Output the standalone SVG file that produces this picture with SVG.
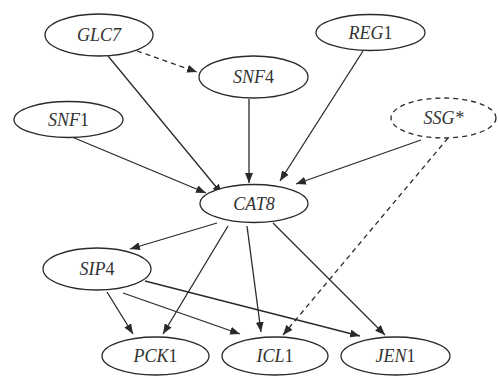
<svg xmlns="http://www.w3.org/2000/svg" width="498" height="376" viewBox="0 0 498 376">
<defs>
<marker id="ah" viewBox="0 0 10 8" refX="10" refY="4" markerWidth="10" markerHeight="8" markerUnits="userSpaceOnUse" orient="auto">
<path d="M0,0 L10,4 L0,8 z" fill="#2a2a2a"/>
</marker>
</defs>
<style>
.n ellipse{fill:#fff;stroke:#2a2a2a;stroke-width:1.3}
.n.d ellipse{stroke-dasharray:5 4}
.n text{font-family:"Liberation Serif","Times New Roman",serif;font-size:18px;font-style:italic;fill:#333;text-anchor:middle}
.n text tspan.u{font-style:normal}
#edges line{stroke:#2a2a2a;stroke-width:1.3;marker-end:url(#ah)}
#edges line.d{stroke-dasharray:5 4}
</style>
<rect width="498" height="376" fill="#fff"/>
<g id="edges">
<line class="d" x1="137" y1="51" x2="197" y2="72"/>
<line x1="108" y1="56" x2="222" y2="194"/>
<line x1="72" y1="137" x2="206" y2="193"/>
<line x1="249" y1="99" x2="249" y2="183"/>
<line x1="363" y1="51" x2="280" y2="181"/>
<line x1="421" y1="140" x2="296" y2="184"/>
<line class="d" x1="448" y1="138" x2="283" y2="335"/>
<line x1="217" y1="223" x2="130" y2="249"/>
<line x1="228" y1="226" x2="163" y2="334"/>
<line x1="247" y1="226" x2="261" y2="332"/>
<line x1="273" y1="223" x2="385" y2="335"/>
<line x1="107" y1="292" x2="133" y2="334"/>
<line x1="123" y1="293" x2="240" y2="334"/>
<line x1="145" y1="281" x2="360" y2="336"/>
</g>
<g id="GLC7" class="n"><ellipse cx="99" cy="35" rx="54" ry="21"/><text x="99" y="41">GLC7</text></g>
<g id="SNF4" class="n"><ellipse cx="253.5" cy="77" rx="54.5" ry="21"/><text x="253.5" y="83">SNF<tspan class="u">4</tspan></text></g>
<g id="REG1" class="n"><ellipse cx="370.5" cy="32.5" rx="54.5" ry="18"/><text x="370.5" y="38.5">REG<tspan class="u">1</tspan></text></g>
<g id="SNF1" class="n"><ellipse cx="68.5" cy="119.5" rx="54.5" ry="18"/><text x="68.5" y="125.5">SNF<tspan class="u">1</tspan></text></g>
<g id="SSG" class="n d"><ellipse cx="443.5" cy="118" rx="52.5" ry="20"/><text x="443.5" y="124">SSG*</text></g>
<g id="CAT8" class="n"><ellipse cx="254" cy="203.5" rx="54" ry="19"/><text x="254" y="209.5">CAT8</text></g>
<g id="SIP4" class="n"><ellipse cx="97" cy="269" rx="54" ry="21"/><text x="97" y="275">SIP<tspan class="u">4</tspan></text></g>
<g id="PCK1" class="n"><ellipse cx="155.5" cy="356" rx="53.5" ry="19"/><text x="155.5" y="362">PCK<tspan class="u">1</tspan></text></g>
<g id="ICL1" class="n"><ellipse cx="275" cy="356" rx="53" ry="19"/><text x="275" y="362">ICL<tspan class="u">1</tspan></text></g>
<g id="JEN1" class="n"><ellipse cx="395.5" cy="356" rx="54.5" ry="19"/><text x="395.5" y="362">JEN<tspan class="u">1</tspan></text></g>
</svg>
